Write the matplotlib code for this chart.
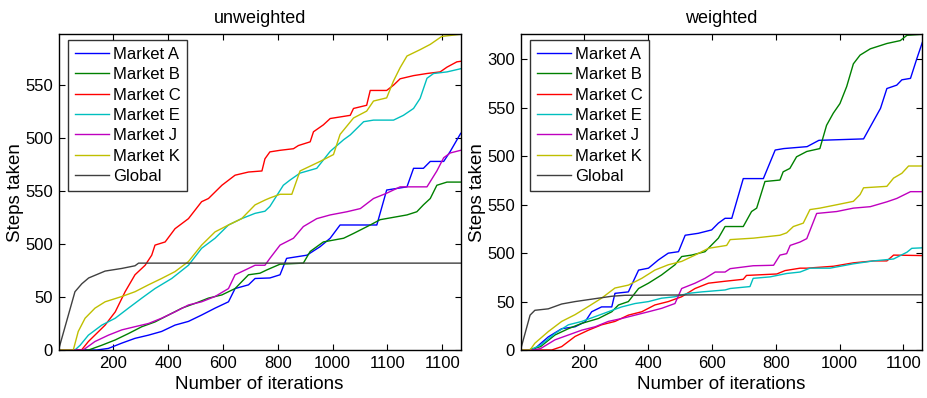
import matplotlib
matplotlib.use("Agg")
import matplotlib.pyplot as plt

plt.rcParams['font.family'] = ['Liberation Sans', 'DejaVu Sans']

series_names = ["Market A", "Market B", "Market C", "Market E", "Market J", "Market K", "Global"]
colors = ["#0000ff", "#008000", "#ff0000", "#00bfbf", "#bf00bf", "#bfbf00", "#404040"]

# ---------------- unweighted ----------------
uw_A_x = [0, 140, 182, 231, 279, 328, 376, 425, 474, 522, 571, 620, 644, 693, 717, 771, 808, 832, 906, 954, 991, 1027, 1161, 1197, 1271, 1295, 1331, 1356, 1405, 1429, 1467]
uw_A_y = [0, 0, 3, 13, 22, 28, 35, 47, 54, 66, 79, 91, 116, 123, 135, 136, 142, 173, 179, 195, 211, 236, 236, 302, 308, 343, 343, 356, 356, 375, 409]
uw_B_x = [0, 110, 158, 207, 255, 304, 352, 401, 450, 498, 547, 596, 644, 693, 735, 759, 808, 893, 918, 966, 1040, 1076, 1137, 1173, 1271, 1307, 1331, 1356, 1380, 1417, 1467]
uw_B_y = [0, 0, 9, 19, 31, 44, 53, 66, 79, 88, 98, 104, 116, 142, 145, 151, 162, 164, 186, 204, 211, 220, 236, 246, 255, 261, 274, 286, 311, 317, 317]
uw_C_x = [0, 84, 109, 170, 207, 243, 279, 316, 340, 352, 389, 425, 474, 522, 547, 596, 644, 693, 742, 753, 771, 808, 857, 875, 918, 930, 966, 991, 1064, 1076, 1124, 1137, 1197, 1222, 1246, 1295, 1344, 1392, 1417, 1453, 1467]
uw_C_y = [0, 0, 16, 47, 72, 110, 142, 160, 179, 198, 204, 229, 248, 280, 286, 311, 330, 336, 338, 361, 374, 377, 380, 386, 393, 412, 425, 437, 443, 456, 462, 490, 490, 500, 512, 518, 522, 525, 534, 544, 545]
uw_E_x = [0, 60, 79, 109, 158, 207, 255, 304, 352, 413, 474, 522, 571, 620, 668, 717, 753, 771, 820, 845, 881, 942, 991, 1040, 1064, 1113, 1149, 1222, 1258, 1295, 1319, 1344, 1368, 1417, 1467]
uw_E_y = [0, 0, 9, 28, 47, 60, 79, 98, 116, 135, 160, 192, 211, 236, 248, 258, 262, 271, 311, 321, 334, 343, 375, 397, 406, 431, 434, 434, 443, 456, 475, 513, 522, 525, 531]
uw_J_x = [0, 90, 133, 182, 231, 279, 328, 376, 425, 474, 522, 571, 620, 644, 693, 717, 753, 771, 808, 857, 893, 942, 991, 1052, 1101, 1149, 1197, 1246, 1344, 1380, 1405, 1429, 1467]
uw_J_y = [0, 0, 16, 28, 38, 44, 50, 60, 72, 85, 91, 101, 116, 142, 154, 160, 160, 173, 198, 211, 233, 248, 255, 261, 267, 286, 296, 308, 308, 338, 363, 372, 377]
uw_K_x = [0, 54, 72, 97, 133, 170, 231, 279, 328, 376, 425, 474, 522, 571, 620, 668, 717, 753, 771, 808, 851, 881, 954, 1003, 1027, 1076, 1124, 1149, 1197, 1222, 1246, 1271, 1319, 1356, 1398, 1467]
uw_K_y = [0, 0, 35, 60, 79, 91, 101, 110, 123, 135, 148, 167, 198, 223, 236, 248, 274, 283, 287, 294, 294, 338, 356, 369, 407, 438, 451, 470, 476, 508, 533, 555, 567, 577, 592, 596]
uw_G_x = [0, 60, 85, 110, 170, 231, 279, 292, 1467]
uw_G_y = [0, 110, 125, 136, 149, 154, 159, 164, 164]

# ---------------- weighted ----------------
w_A_x = [0, 25, 45, 87, 129, 171, 202, 223, 254, 286, 296, 338, 370, 401, 432, 463, 495, 516, 557, 599, 620, 641, 662, 698, 761, 798, 825, 898, 935, 1075, 1096, 1128, 1148, 1179, 1195, 1222, 1242, 1259]
w_A_y = [0, 0, 3, 27, 44, 48, 58, 79, 89, 89, 117, 120, 165, 169, 186, 200, 203, 237, 241, 248, 262, 272, 272, 354, 354, 413, 416, 420, 433, 436, 461, 499, 540, 547, 558, 561, 602, 635]
w_B_x = [0, 25, 63, 108, 150, 192, 244, 286, 307, 338, 370, 401, 442, 484, 505, 536, 578, 599, 620, 641, 698, 724, 740, 766, 813, 823, 844, 865, 897, 938, 959, 980, 1001, 1022, 1043, 1064, 1096, 1148, 1190, 1211, 1259]
w_B_y = [0, 0, 7, 31, 44, 55, 65, 79, 93, 100, 127, 138, 155, 176, 193, 196, 203, 217, 231, 255, 255, 286, 293, 348, 351, 368, 375, 399, 410, 416, 464, 489, 509, 544, 591, 609, 622, 633, 639, 650, 652]
w_C_x = [0, 98, 129, 171, 213, 254, 296, 338, 380, 421, 463, 505, 547, 589, 641, 698, 708, 803, 829, 876, 897, 981, 1043, 1106, 1148, 1169, 1259]
w_C_y = [0, 0, 7, 28, 41, 52, 59, 72, 79, 93, 100, 110, 127, 138, 142, 146, 154, 157, 164, 169, 169, 173, 180, 184, 184, 196, 195]
w_E_x = [0, 30, 63, 108, 150, 192, 234, 275, 317, 359, 401, 442, 484, 526, 568, 641, 657, 719, 729, 782, 834, 876, 907, 970, 1043, 1106, 1169, 1190, 1211, 1226, 1259]
w_E_y = [0, 0, 10, 34, 52, 59, 69, 79, 89, 96, 100, 107, 110, 117, 120, 124, 127, 131, 148, 151, 158, 161, 169, 169, 178, 184, 188, 195, 202, 210, 211]
w_J_x = [0, 40, 63, 108, 150, 192, 234, 275, 317, 359, 401, 442, 484, 505, 547, 578, 610, 641, 657, 729, 793, 813, 834, 845, 876, 897, 928, 991, 1043, 1096, 1148, 1179, 1222, 1259]
w_J_y = [0, 0, 3, 21, 31, 41, 48, 59, 65, 72, 79, 86, 96, 127, 138, 148, 161, 161, 168, 174, 175, 196, 199, 216, 223, 230, 282, 286, 293, 296, 306, 313, 327, 327]
w_K_x = [0, 30, 45, 87, 129, 171, 213, 254, 296, 338, 380, 421, 463, 505, 547, 589, 646, 657, 730, 813, 834, 855, 886, 907, 938, 991, 1043, 1064, 1075, 1148, 1169, 1195, 1216, 1259]
w_K_y = [0, 0, 14, 38, 59, 73, 90, 107, 128, 134, 148, 165, 176, 183, 196, 210, 216, 228, 231, 237, 242, 255, 262, 290, 293, 300, 307, 321, 335, 338, 355, 365, 380, 380]
w_G_x = [0, 30, 45, 87, 129, 171, 223, 286, 328, 610, 1259]
w_G_y = [0, 72, 82, 85, 95, 100, 105, 111, 113, 114, 114]

# tick values and labels (as printed in the reference)
uw_xticks = [200, 400, 600, 800, 1000, 1200, 1400]
uw_xticklabels = ["200", "400", "600", "800", "1000", "1100", "1100"]
uw_yticks = [0, 100, 200, 300, 400, 500]
uw_yticklabels = ["0", "50", "500", "550", "500", "550"]
w_xticks = [200, 400, 600, 800, 1000, 1200]
w_xticklabels = ["200", "400", "600", "800", "1000", "1100"]
w_yticks = [0, 100, 200, 300, 400, 500, 600]
w_yticklabels = ["0", "50", "500", "550", "500", "550", "300"]

uw_series = [(uw_A_x, uw_A_y), (uw_B_x, uw_B_y), (uw_C_x, uw_C_y), (uw_E_x, uw_E_y),
             (uw_J_x, uw_J_y), (uw_K_x, uw_K_y), (uw_G_x, uw_G_y)]
w_series = [(w_A_x, w_A_y), (w_B_x, w_B_y), (w_C_x, w_C_y), (w_E_x, w_E_y),
            (w_J_x, w_J_y), (w_K_x, w_K_y), (w_G_x, w_G_y)]

W, H = 927, 398
fig = plt.figure(figsize=(W / 100, H / 100), dpi=100)
ax_w = (460.7 - 58.5) / W
ax_h = (350 - 34.3) / H
ax1 = fig.add_axes([58.5 / W, 48 / H, ax_w, ax_h])
ax2 = fig.add_axes([520.5 / W, 48 / H, (922.3 - 520.5) / W, ax_h])

panels = [
    (ax1, uw_series, "unweighted", 1467, 596, uw_xticks, uw_xticklabels, uw_yticks, uw_yticklabels),
    (ax2, w_series, "weighted", 1259, 652, w_xticks, w_xticklabels, w_yticks, w_yticklabels),
]

for ax, series, title, xmax, ymax, xt, xtl, yt, ytl in panels:
    for (xs, ys), name, c in zip(series, series_names, colors):
        ax.plot(xs, ys, color=c, lw=1.0, label=name)
    ax.set_xlim(0, xmax)
    ax.set_ylim(0, ymax)
    ax.set_xticks(xt)
    ax.set_xticklabels(xtl)
    ax.set_yticks(yt)
    ax.set_yticklabels(ytl)
    ax.tick_params(direction='in', top=True, right=True, length=4, width=0.8,
                   labelsize=12, pad=4)
    for s in ax.spines.values():
        s.set_linewidth(1.0)
    ax.set_title(title, fontsize=13, pad=8)
    ax.set_xlabel("Number of iterations", fontsize=13.5, labelpad=4)
    ax.set_ylabel("Steps taken", fontsize=13.5, labelpad=0.5)
    leg = ax.legend(loc='upper left', bbox_to_anchor=(9.5 / 402, 1 - 6 / 315.7),
                    borderaxespad=0, fontsize=12, frameon=True, fancybox=False,
                    handlelength=2.05, handletextpad=0.25, labelspacing=0.32,
                    borderpad=0.4)
    leg.get_frame().set_edgecolor('black')
    leg.get_frame().set_linewidth(1.0)

fig.savefig("out.png", dpi=100)
